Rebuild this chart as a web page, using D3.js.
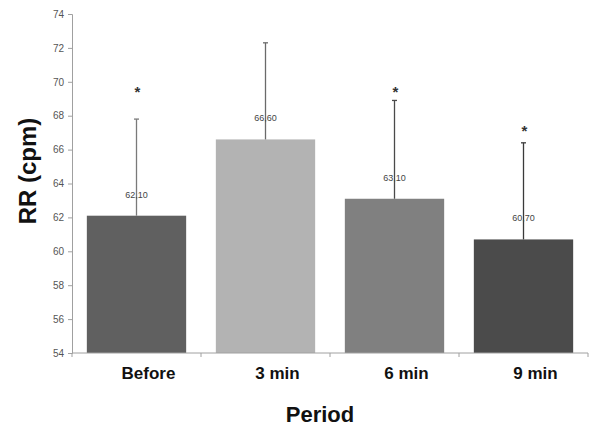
<!DOCTYPE html>
<html>
<head>
<meta charset="utf-8">
<script src="https://cdn.jsdelivr.net/npm/d3@7"></script>
<style>
  html, body { margin: 0; padding: 0; background: #fff; }
  svg { display: block; font-family: "Liberation Sans", Arial, sans-serif; }
</style>
</head>
<body>
<svg id="chart" width="600" height="432"></svg>
<script>
const categories = ["Before", "3 min", "6 min", "9 min"];
const means = [62.1, 66.6, 63.1, 60.7];
const sds = [5.7, 5.7, 5.8, 5.7];
const starValues = [69.6, null, 69.6, 67.3];
const valueLabels = ["62,10", "66,60", "63,10", "60,70"];
const yTicks = [54, 56, 58, 60, 62, 64, 66, 68, 70, 72, 74];
const barColors = ["#606060", "#b3b3b3", "#808080", "#4b4b4b"];
const errColors = ["#7a7a7a", "#6a6a6a", "#4a4a4a", "#3a3a3a"];

const svg = d3.select("#chart");
const plotLeft = 72, plotRight = 588, plotTop = 14, plotBottom = 353;

const x = d3.scaleBand().domain(categories).range([plotLeft, plotRight]).paddingInner(0.23).paddingOuter(0.115);
const y = d3.scaleLinear().domain([54, 74]).range([plotBottom, plotTop]);

// bars
svg.selectAll("rect.bar").data(categories).enter().append("rect")
  .attr("class", "bar")
  .attr("x", d => x(d))
  .attr("width", x.bandwidth())
  .attr("y", (d, i) => y(means[i]))
  .attr("height", (d, i) => y(54) - y(means[i]))
  .attr("fill", (d, i) => barColors[i]);

// error bars
const eb = svg.selectAll("g.err").data(categories).enter().append("g").attr("class", "err");
eb.append("line")
  .attr("x1", d => x(d) + x.bandwidth() / 2).attr("x2", d => x(d) + x.bandwidth() / 2)
  .attr("y1", (d, i) => y(means[i])).attr("y2", (d, i) => y(means[i] + sds[i]))
  .attr("stroke", (d, i) => errColors[i]).attr("stroke-width", 1.3);
eb.append("line")
  .attr("x1", d => x(d) + x.bandwidth() / 2 - 2.5).attr("x2", d => x(d) + x.bandwidth() / 2 + 2.5)
  .attr("y1", (d, i) => y(means[i] + sds[i])).attr("y2", (d, i) => y(means[i] + sds[i]))
  .attr("stroke", (d, i) => errColors[i]).attr("stroke-width", 1.3);

// value labels
svg.selectAll("text.val").data(categories).enter().append("text")
  .attr("class", "val")
  .attr("x", d => x(d) + x.bandwidth() / 2)
  .attr("y", (d, i) => y(means[i]) - 18)
  .attr("text-anchor", "middle")
  .attr("font-size", 9)
  .attr("fill", "#444")
  .text((d, i) => valueLabels[i]);

// stars
const starData = categories.map((c, i) => ({ c, v: starValues[i] })).filter(d => d.v !== null);
svg.selectAll("text.star").data(starData).enter().append("text")
  .attr("class", "star")
  .attr("x", d => x(d.c) + x.bandwidth() / 2 + 1)
  .attr("y", d => y(d.v) + 8)
  .attr("text-anchor", "middle")
  .attr("font-size", 15)
  .attr("font-weight", "bold")
  .attr("fill", "#333")
  .text("*");

// y axis
const yAxis = d3.axisLeft(y).tickValues(yTicks).tickSize(4).tickPadding(4);
const gy = svg.append("g").attr("transform", `translate(${plotLeft},0)`).call(yAxis);
gy.select(".domain").attr("stroke", "#a0a0a0");
gy.selectAll(".tick line").attr("stroke", "#a0a0a0");
gy.selectAll(".tick text").attr("font-size", 10).attr("fill", "#555")
  .attr("font-family", "'Liberation Sans', Arial, sans-serif");

// x axis line + boundary ticks
const gx = svg.append("g").attr("transform", `translate(0,${plotBottom})`);
gx.append("line").attr("x1", plotLeft).attr("x2", plotRight).attr("y1", 0).attr("y2", 0).attr("stroke", "#a0a0a0");
const bounds = d3.range(categories.length + 1).map(k => plotLeft + k * (plotRight - plotLeft) / categories.length);
gx.selectAll("line.bt").data(bounds).enter().append("line")
  .attr("class", "bt")
  .attr("x1", d => d).attr("x2", d => d).attr("y1", 0).attr("y2", 4)
  .attr("stroke", "#a0a0a0");

// category labels
svg.selectAll("text.cat").data(categories).enter().append("text")
  .attr("class", "cat")
  .attr("x", d => x(d) + x.bandwidth() / 2 + 12)
  .attr("y", 379)
  .attr("text-anchor", "middle")
  .attr("font-size", 17)
  .attr("font-weight", "bold")
  .attr("fill", "#111")
  .text(d => d);

// axis titles
svg.append("text")
  .attr("x", 320).attr("y", 422)
  .attr("text-anchor", "middle")
  .attr("font-size", 22).attr("font-weight", "bold").attr("fill", "#111")
  .text("Period");

svg.append("text")
  .attr("transform", "translate(36,171) rotate(-90)")
  .attr("text-anchor", "middle")
  .attr("font-size", 24).attr("font-weight", "bold").attr("fill", "#111")
  .text("RR (cpm)");
</script>
</body>
</html>
